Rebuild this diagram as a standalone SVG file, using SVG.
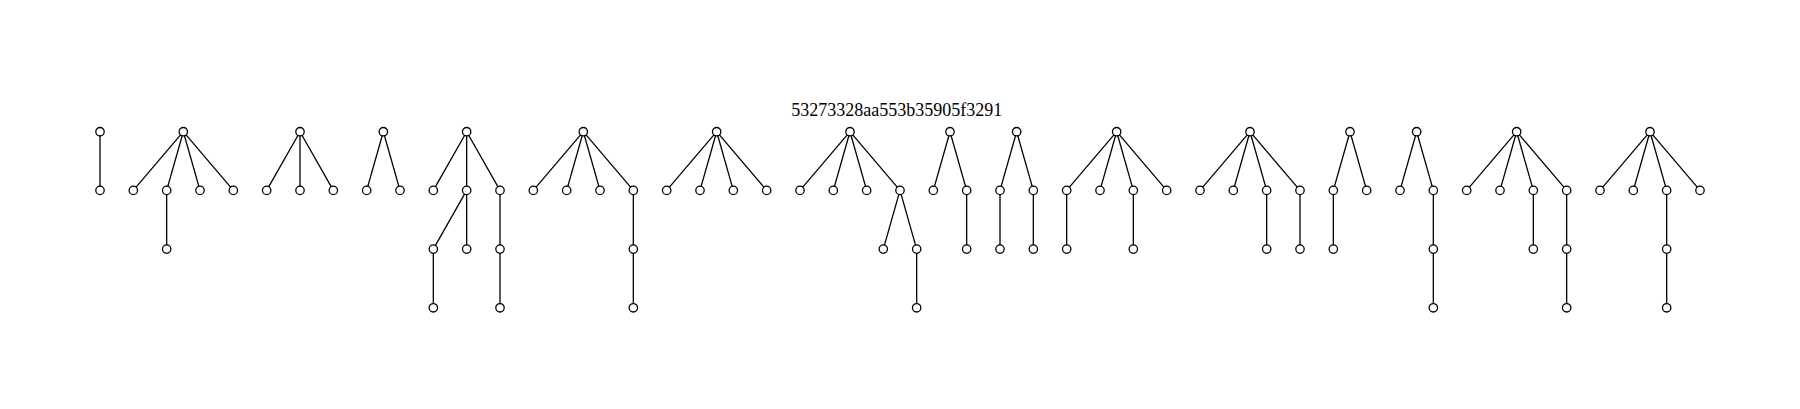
<svg xmlns="http://www.w3.org/2000/svg" width="1800" height="409" viewBox="0 0 1800 409">
<style>
.e line{stroke:#000;stroke-width:1.3}
.n circle{fill:#fff;stroke:#000;stroke-width:1.3}
.t{font-family:"Liberation Serif","Times New Roman",serif;font-size:18px;fill:#000}
</style>
<rect width="1800" height="409" fill="#fff"/>
<text class="t" x="896.7" y="115.7" text-anchor="middle">53273328aa553b35905f3291</text>
<g id="connectors" class="e">
<line x1="100" y1="131.7" x2="100" y2="190.4"/>
<line x1="183.33" y1="131.7" x2="133.33" y2="190.4"/>
<line x1="183.33" y1="131.7" x2="166.67" y2="190.4"/>
<line x1="183.33" y1="131.7" x2="200" y2="190.4"/>
<line x1="183.33" y1="131.7" x2="233.33" y2="190.4"/>
<line x1="166.67" y1="190.4" x2="166.67" y2="249.1"/>
<line x1="300" y1="131.7" x2="266.67" y2="190.4"/>
<line x1="300" y1="131.7" x2="300" y2="190.4"/>
<line x1="300" y1="131.7" x2="333.33" y2="190.4"/>
<line x1="383.33" y1="131.7" x2="366.67" y2="190.4"/>
<line x1="383.33" y1="131.7" x2="400" y2="190.4"/>
<line x1="466.67" y1="131.7" x2="433.33" y2="190.4"/>
<line x1="466.67" y1="131.7" x2="466.67" y2="190.4"/>
<line x1="466.67" y1="131.7" x2="500" y2="190.4"/>
<line x1="466.67" y1="190.4" x2="433.33" y2="249.1"/>
<line x1="466.67" y1="190.4" x2="466.67" y2="249.1"/>
<line x1="433.33" y1="249.1" x2="433.33" y2="307.8"/>
<line x1="500" y1="190.4" x2="500" y2="249.1"/>
<line x1="500" y1="249.1" x2="500" y2="307.8"/>
<line x1="583.33" y1="131.7" x2="533.33" y2="190.4"/>
<line x1="583.33" y1="131.7" x2="566.67" y2="190.4"/>
<line x1="583.33" y1="131.7" x2="600" y2="190.4"/>
<line x1="583.33" y1="131.7" x2="633.33" y2="190.4"/>
<line x1="633.33" y1="190.4" x2="633.33" y2="249.1"/>
<line x1="633.33" y1="249.1" x2="633.33" y2="307.8"/>
<line x1="716.67" y1="131.7" x2="666.67" y2="190.4"/>
<line x1="716.67" y1="131.7" x2="700" y2="190.4"/>
<line x1="716.67" y1="131.7" x2="733.33" y2="190.4"/>
<line x1="716.67" y1="131.7" x2="766.67" y2="190.4"/>
<line x1="850" y1="131.7" x2="800" y2="190.4"/>
<line x1="850" y1="131.7" x2="833.33" y2="190.4"/>
<line x1="850" y1="131.7" x2="866.67" y2="190.4"/>
<line x1="850" y1="131.7" x2="900" y2="190.4"/>
<line x1="900" y1="190.4" x2="883.33" y2="249.1"/>
<line x1="900" y1="190.4" x2="916.67" y2="249.1"/>
<line x1="916.67" y1="249.1" x2="916.67" y2="307.8"/>
<line x1="950" y1="131.7" x2="933.33" y2="190.4"/>
<line x1="950" y1="131.7" x2="966.67" y2="190.4"/>
<line x1="966.67" y1="190.4" x2="966.67" y2="249.1"/>
<line x1="1016.67" y1="131.7" x2="1000" y2="190.4"/>
<line x1="1016.67" y1="131.7" x2="1033.33" y2="190.4"/>
<line x1="1000" y1="190.4" x2="1000" y2="249.1"/>
<line x1="1033.33" y1="190.4" x2="1033.33" y2="249.1"/>
<line x1="1116.67" y1="131.7" x2="1066.67" y2="190.4"/>
<line x1="1116.67" y1="131.7" x2="1100" y2="190.4"/>
<line x1="1116.67" y1="131.7" x2="1133.33" y2="190.4"/>
<line x1="1116.67" y1="131.7" x2="1166.67" y2="190.4"/>
<line x1="1066.67" y1="190.4" x2="1066.67" y2="249.1"/>
<line x1="1133.33" y1="190.4" x2="1133.33" y2="249.1"/>
<line x1="1250" y1="131.7" x2="1200" y2="190.4"/>
<line x1="1250" y1="131.7" x2="1233.33" y2="190.4"/>
<line x1="1250" y1="131.7" x2="1266.67" y2="190.4"/>
<line x1="1250" y1="131.7" x2="1300" y2="190.4"/>
<line x1="1266.67" y1="190.4" x2="1266.67" y2="249.1"/>
<line x1="1300" y1="190.4" x2="1300" y2="249.1"/>
<line x1="1350" y1="131.7" x2="1333.33" y2="190.4"/>
<line x1="1350" y1="131.7" x2="1366.67" y2="190.4"/>
<line x1="1333.33" y1="190.4" x2="1333.33" y2="249.1"/>
<line x1="1416.67" y1="131.7" x2="1400" y2="190.4"/>
<line x1="1416.67" y1="131.7" x2="1433.33" y2="190.4"/>
<line x1="1433.33" y1="190.4" x2="1433.33" y2="249.1"/>
<line x1="1433.33" y1="249.1" x2="1433.33" y2="307.8"/>
<line x1="1516.67" y1="131.7" x2="1466.67" y2="190.4"/>
<line x1="1516.67" y1="131.7" x2="1500" y2="190.4"/>
<line x1="1516.67" y1="131.7" x2="1533.33" y2="190.4"/>
<line x1="1516.67" y1="131.7" x2="1566.67" y2="190.4"/>
<line x1="1533.33" y1="190.4" x2="1533.33" y2="249.1"/>
<line x1="1566.67" y1="190.4" x2="1566.67" y2="249.1"/>
<line x1="1566.67" y1="249.1" x2="1566.67" y2="307.8"/>
<line x1="1650" y1="131.7" x2="1600" y2="190.4"/>
<line x1="1650" y1="131.7" x2="1633.33" y2="190.4"/>
<line x1="1650" y1="131.7" x2="1666.67" y2="190.4"/>
<line x1="1650" y1="131.7" x2="1700" y2="190.4"/>
<line x1="1666.67" y1="190.4" x2="1666.67" y2="249.1"/>
<line x1="1666.67" y1="249.1" x2="1666.67" y2="307.8"/>
</g>
<g id="tree1" class="n"><circle cx="100" cy="131.7" r="4.2"/><circle cx="100" cy="190.4" r="4.2"/></g>
<g id="tree2" class="n"><circle cx="183.33" cy="131.7" r="4.2"/><circle cx="133.33" cy="190.4" r="4.2"/><circle cx="166.67" cy="190.4" r="4.2"/><circle cx="200" cy="190.4" r="4.2"/><circle cx="233.33" cy="190.4" r="4.2"/><circle cx="166.67" cy="249.1" r="4.2"/></g>
<g id="tree3" class="n"><circle cx="300" cy="131.7" r="4.2"/><circle cx="266.67" cy="190.4" r="4.2"/><circle cx="300" cy="190.4" r="4.2"/><circle cx="333.33" cy="190.4" r="4.2"/></g>
<g id="tree4" class="n"><circle cx="383.33" cy="131.7" r="4.2"/><circle cx="366.67" cy="190.4" r="4.2"/><circle cx="400" cy="190.4" r="4.2"/></g>
<g id="tree5" class="n"><circle cx="466.67" cy="131.7" r="4.2"/><circle cx="433.33" cy="190.4" r="4.2"/><circle cx="466.67" cy="190.4" r="4.2"/><circle cx="500" cy="190.4" r="4.2"/><circle cx="433.33" cy="249.1" r="4.2"/><circle cx="466.67" cy="249.1" r="4.2"/><circle cx="500" cy="249.1" r="4.2"/><circle cx="433.33" cy="307.8" r="4.2"/><circle cx="500" cy="307.8" r="4.2"/></g>
<g id="tree6" class="n"><circle cx="583.33" cy="131.7" r="4.2"/><circle cx="533.33" cy="190.4" r="4.2"/><circle cx="566.67" cy="190.4" r="4.2"/><circle cx="600" cy="190.4" r="4.2"/><circle cx="633.33" cy="190.4" r="4.2"/><circle cx="633.33" cy="249.1" r="4.2"/><circle cx="633.33" cy="307.8" r="4.2"/></g>
<g id="tree7" class="n"><circle cx="716.67" cy="131.7" r="4.2"/><circle cx="666.67" cy="190.4" r="4.2"/><circle cx="700" cy="190.4" r="4.2"/><circle cx="733.33" cy="190.4" r="4.2"/><circle cx="766.67" cy="190.4" r="4.2"/></g>
<g id="tree8" class="n"><circle cx="850" cy="131.7" r="4.2"/><circle cx="800" cy="190.4" r="4.2"/><circle cx="833.33" cy="190.4" r="4.2"/><circle cx="866.67" cy="190.4" r="4.2"/><circle cx="900" cy="190.4" r="4.2"/><circle cx="883.33" cy="249.1" r="4.2"/><circle cx="916.67" cy="249.1" r="4.2"/><circle cx="916.67" cy="307.8" r="4.2"/></g>
<g id="tree9" class="n"><circle cx="950" cy="131.7" r="4.2"/><circle cx="933.33" cy="190.4" r="4.2"/><circle cx="966.67" cy="190.4" r="4.2"/><circle cx="966.67" cy="249.1" r="4.2"/></g>
<g id="tree10" class="n"><circle cx="1016.67" cy="131.7" r="4.2"/><circle cx="1000" cy="190.4" r="4.2"/><circle cx="1033.33" cy="190.4" r="4.2"/><circle cx="1000" cy="249.1" r="4.2"/><circle cx="1033.33" cy="249.1" r="4.2"/></g>
<g id="tree11" class="n"><circle cx="1116.67" cy="131.7" r="4.2"/><circle cx="1066.67" cy="190.4" r="4.2"/><circle cx="1100" cy="190.4" r="4.2"/><circle cx="1133.33" cy="190.4" r="4.2"/><circle cx="1166.67" cy="190.4" r="4.2"/><circle cx="1066.67" cy="249.1" r="4.2"/><circle cx="1133.33" cy="249.1" r="4.2"/></g>
<g id="tree12" class="n"><circle cx="1250" cy="131.7" r="4.2"/><circle cx="1200" cy="190.4" r="4.2"/><circle cx="1233.33" cy="190.4" r="4.2"/><circle cx="1266.67" cy="190.4" r="4.2"/><circle cx="1300" cy="190.4" r="4.2"/><circle cx="1266.67" cy="249.1" r="4.2"/><circle cx="1300" cy="249.1" r="4.2"/></g>
<g id="tree13" class="n"><circle cx="1350" cy="131.7" r="4.2"/><circle cx="1333.33" cy="190.4" r="4.2"/><circle cx="1366.67" cy="190.4" r="4.2"/><circle cx="1333.33" cy="249.1" r="4.2"/></g>
<g id="tree14" class="n"><circle cx="1416.67" cy="131.7" r="4.2"/><circle cx="1400" cy="190.4" r="4.2"/><circle cx="1433.33" cy="190.4" r="4.2"/><circle cx="1433.33" cy="249.1" r="4.2"/><circle cx="1433.33" cy="307.8" r="4.2"/></g>
<g id="tree15" class="n"><circle cx="1516.67" cy="131.7" r="4.2"/><circle cx="1466.67" cy="190.4" r="4.2"/><circle cx="1500" cy="190.4" r="4.2"/><circle cx="1533.33" cy="190.4" r="4.2"/><circle cx="1566.67" cy="190.4" r="4.2"/><circle cx="1533.33" cy="249.1" r="4.2"/><circle cx="1566.67" cy="249.1" r="4.2"/><circle cx="1566.67" cy="307.8" r="4.2"/></g>
<g id="tree16" class="n"><circle cx="1650" cy="131.7" r="4.2"/><circle cx="1600" cy="190.4" r="4.2"/><circle cx="1633.33" cy="190.4" r="4.2"/><circle cx="1666.67" cy="190.4" r="4.2"/><circle cx="1700" cy="190.4" r="4.2"/><circle cx="1666.67" cy="249.1" r="4.2"/><circle cx="1666.67" cy="307.8" r="4.2"/></g>
</svg>
